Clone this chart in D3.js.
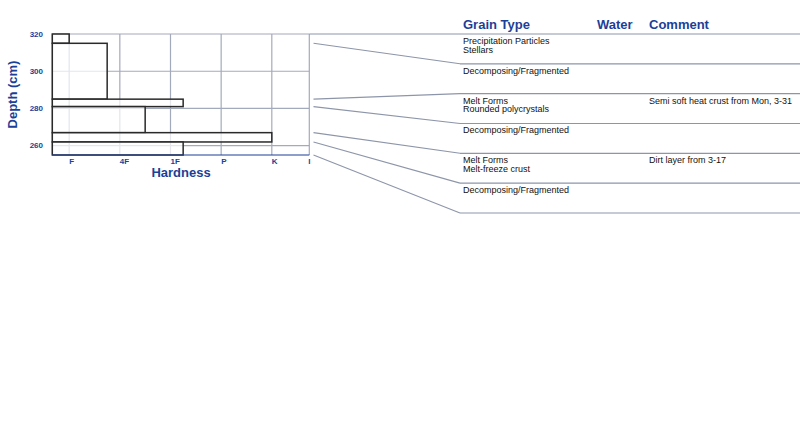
<!DOCTYPE html>
<html>
<head>
<meta charset="utf-8">
<script src="https://cdn.jsdelivr.net/npm/d3@7"></script>
<style>
  body { margin: 0; background: #fff; }
  svg { display: block; font-family: "Liberation Sans", Arial, Helvetica, sans-serif; }
</style>
</head>
<body>
<div id="chart"></div>
<script>
// layers, top to bottom
const depthTop = [320, 315, 285, 281, 267, 262];
const depthBottom = [315, 285, 281, 267, 262, 255];
const hardness = [1, 1.75, 3.25, 2.5, 5, 3.25];
const grainPrimary = ['Precipitation Particles', 'Decomposing/Fragmented', 'Melt Forms',
    'Decomposing/Fragmented', 'Melt Forms', 'Decomposing/Fragmented'];
const grainSecondary = ['Stellars', '', 'Rounded polycrystals', '', 'Melt-freeze crust', ''];
const comments = ['', '', 'Semi soft heat crust from Mon, 3-31', '', 'Dirt layer from 3-17', ''];

// axes
const depthTicks = [320, 300, 280, 260];
const hardLabels = ['F', '4F', '1F', 'P', 'K', 'I'];
const hardValues = [1, 2, 3, 4, 5, 5.74];

const blue = '#1c3f98';
const grid = '#a3aabb';
const rule = '#8d95a9';

const svg = d3.select('#chart').append('svg')
    .attr('width', 800)
    .attr('height', 433);

const x = d3.scaleLinear().domain([0.667, 5.74]).range([52.3, 309.3]);
const y = d3.scaleLinear().domain([255, 320]).range([155, 34]);

const plot = svg.append('g');

//Gridlines
plot.selectAll('line.vgrid')
    .data(hardValues.slice(0, 5))
    .enter().append('line')
    .attr('x1', d => x(d)).attr('x2', d => x(d))
    .attr('y1', y(320)).attr('y2', y(255))
    .attr('stroke', grid).attr('stroke-width', 1.2);

plot.selectAll('line.hgrid')
    .data(depthTicks)
    .enter().append('line')
    .attr('x1', x(0.667)).attr('x2', x(5.74))
    .attr('y1', d => y(d)).attr('y2', d => y(d))
    .attr('stroke', grid).attr('stroke-width', 1.2);

// frame
plot.append('line')
    .attr('x1', x(0.667)).attr('x2', x(0.667))
    .attr('y1', y(320)).attr('y2', y(255))
    .attr('stroke', grid).attr('stroke-width', 1.2);
plot.append('line')
    .attr('x1', x(5.74)).attr('x2', x(5.74))
    .attr('y1', y(320)).attr('y2', y(255))
    .attr('stroke', grid).attr('stroke-width', 1.2);

//Layers
plot.selectAll('rect.layer')
    .data(hardness)
    .enter().append('rect')
    .attr('x', x(0.667))
    .attr('y', (d, i) => y(depthTop[i]))
    .attr('width', d => x(d) - x(0.667))
    .attr('height', (d, i) => y(depthBottom[i]) - y(depthTop[i]))
    .attr('fill', '#fff').attr('fill-opacity', 0.7)
    .attr('stroke', '#2a2a2a').attr('stroke-width', 1.5);

// bottom axis line
plot.append('line')
    .attr('x1', x(0.667)).attr('x2', x(5.74))
    .attr('y1', y(255)).attr('y2', y(255))
    .attr('stroke', blue).attr('stroke-width', 1.2);

// tick labels
plot.selectAll('text.ytick')
    .data(depthTicks)
    .enter().append('text')
    .attr('x', 43).attr('y', d => y(d))
    .attr('dy', '0.35em')
    .attr('text-anchor', 'end')
    .attr('font-size', 8).attr('font-weight', 'bold')
    .attr('fill', blue)
    .text(d => d);

plot.selectAll('text.xtick')
    .data(hardLabels)
    .enter().append('text')
    .attr('x', (d, i) => i == 5 ? x(hardValues[i]) - 1 : x(hardValues[i]))
    .attr('y', 164)
    .attr('font-size', 8).attr('font-weight', 'bold')
    .attr('fill', blue)
    .text(d => d);

svg.append('text')
    .attr('x', 181).attr('y', 177)
    .attr('text-anchor', 'middle')
    .attr('font-size', 13).attr('font-weight', 'bold')
    .attr('fill', blue)
    .text('Hardness');

svg.append('text')
    .attr('transform', 'translate(17, 94.5) rotate(-90)')
    .attr('text-anchor', 'middle')
    .attr('font-size', 13).attr('font-weight', 'bold')
    .attr('fill', blue)
    .text('Depth (cm)');

//Table
const rowTop = i => 34 + i * 29.83;
const tableX = 460;

svg.append('line')
    .attr('x1', x(5.74)).attr('x2', 800)
    .attr('y1', rowTop(0)).attr('y2', rowTop(0))
    .attr('stroke', rule).attr('stroke-width', 1.2);

svg.selectAll('line.row')
    .data(depthBottom)
    .enter().append('line')
    .attr('x1', tableX).attr('x2', 800)
    .attr('y1', (d, i) => rowTop(i + 1)).attr('y2', (d, i) => rowTop(i + 1))
    .attr('stroke', rule).attr('stroke-width', 1.2);

// connectors from layer boundaries to table rows
svg.selectAll('line.link')
    .data(depthBottom)
    .enter().append('line')
    .attr('x1', 313.5).attr('y1', d => y(d))
    .attr('x2', tableX).attr('y2', (d, i) => rowTop(i + 1))
    .attr('stroke', rule).attr('stroke-width', 1.1);

const headers = [['Grain Type', 463], ['Water', 597], ['Comment', 649]];
svg.selectAll('text.header')
    .data(headers)
    .enter().append('text')
    .attr('x', d => d[1]).attr('y', 29)
    .attr('font-size', 13).attr('font-weight', 'bold')
    .attr('fill', blue)
    .text(d => d[0]);

const rows = svg.selectAll('g.row')
    .data(grainPrimary)
    .enter().append('g')
    .attr('transform', (d, i) => `translate(0, ${rowTop(i)})`);

rows.append('text')
    .attr('x', 463).attr('y', 10)
    .attr('font-size', 9).attr('fill', '#111')
    .text(d => d);

rows.append('text')
    .attr('x', 463).attr('y', 18.6)
    .attr('font-size', 9).attr('fill', '#111')
    .text((d, i) => grainSecondary[i]);

rows.append('text')
    .attr('x', 649).attr('y', 10)
    .attr('font-size', 9).attr('fill', '#111')
    .text((d, i) => comments[i]);
</script>
</body>
</html>
